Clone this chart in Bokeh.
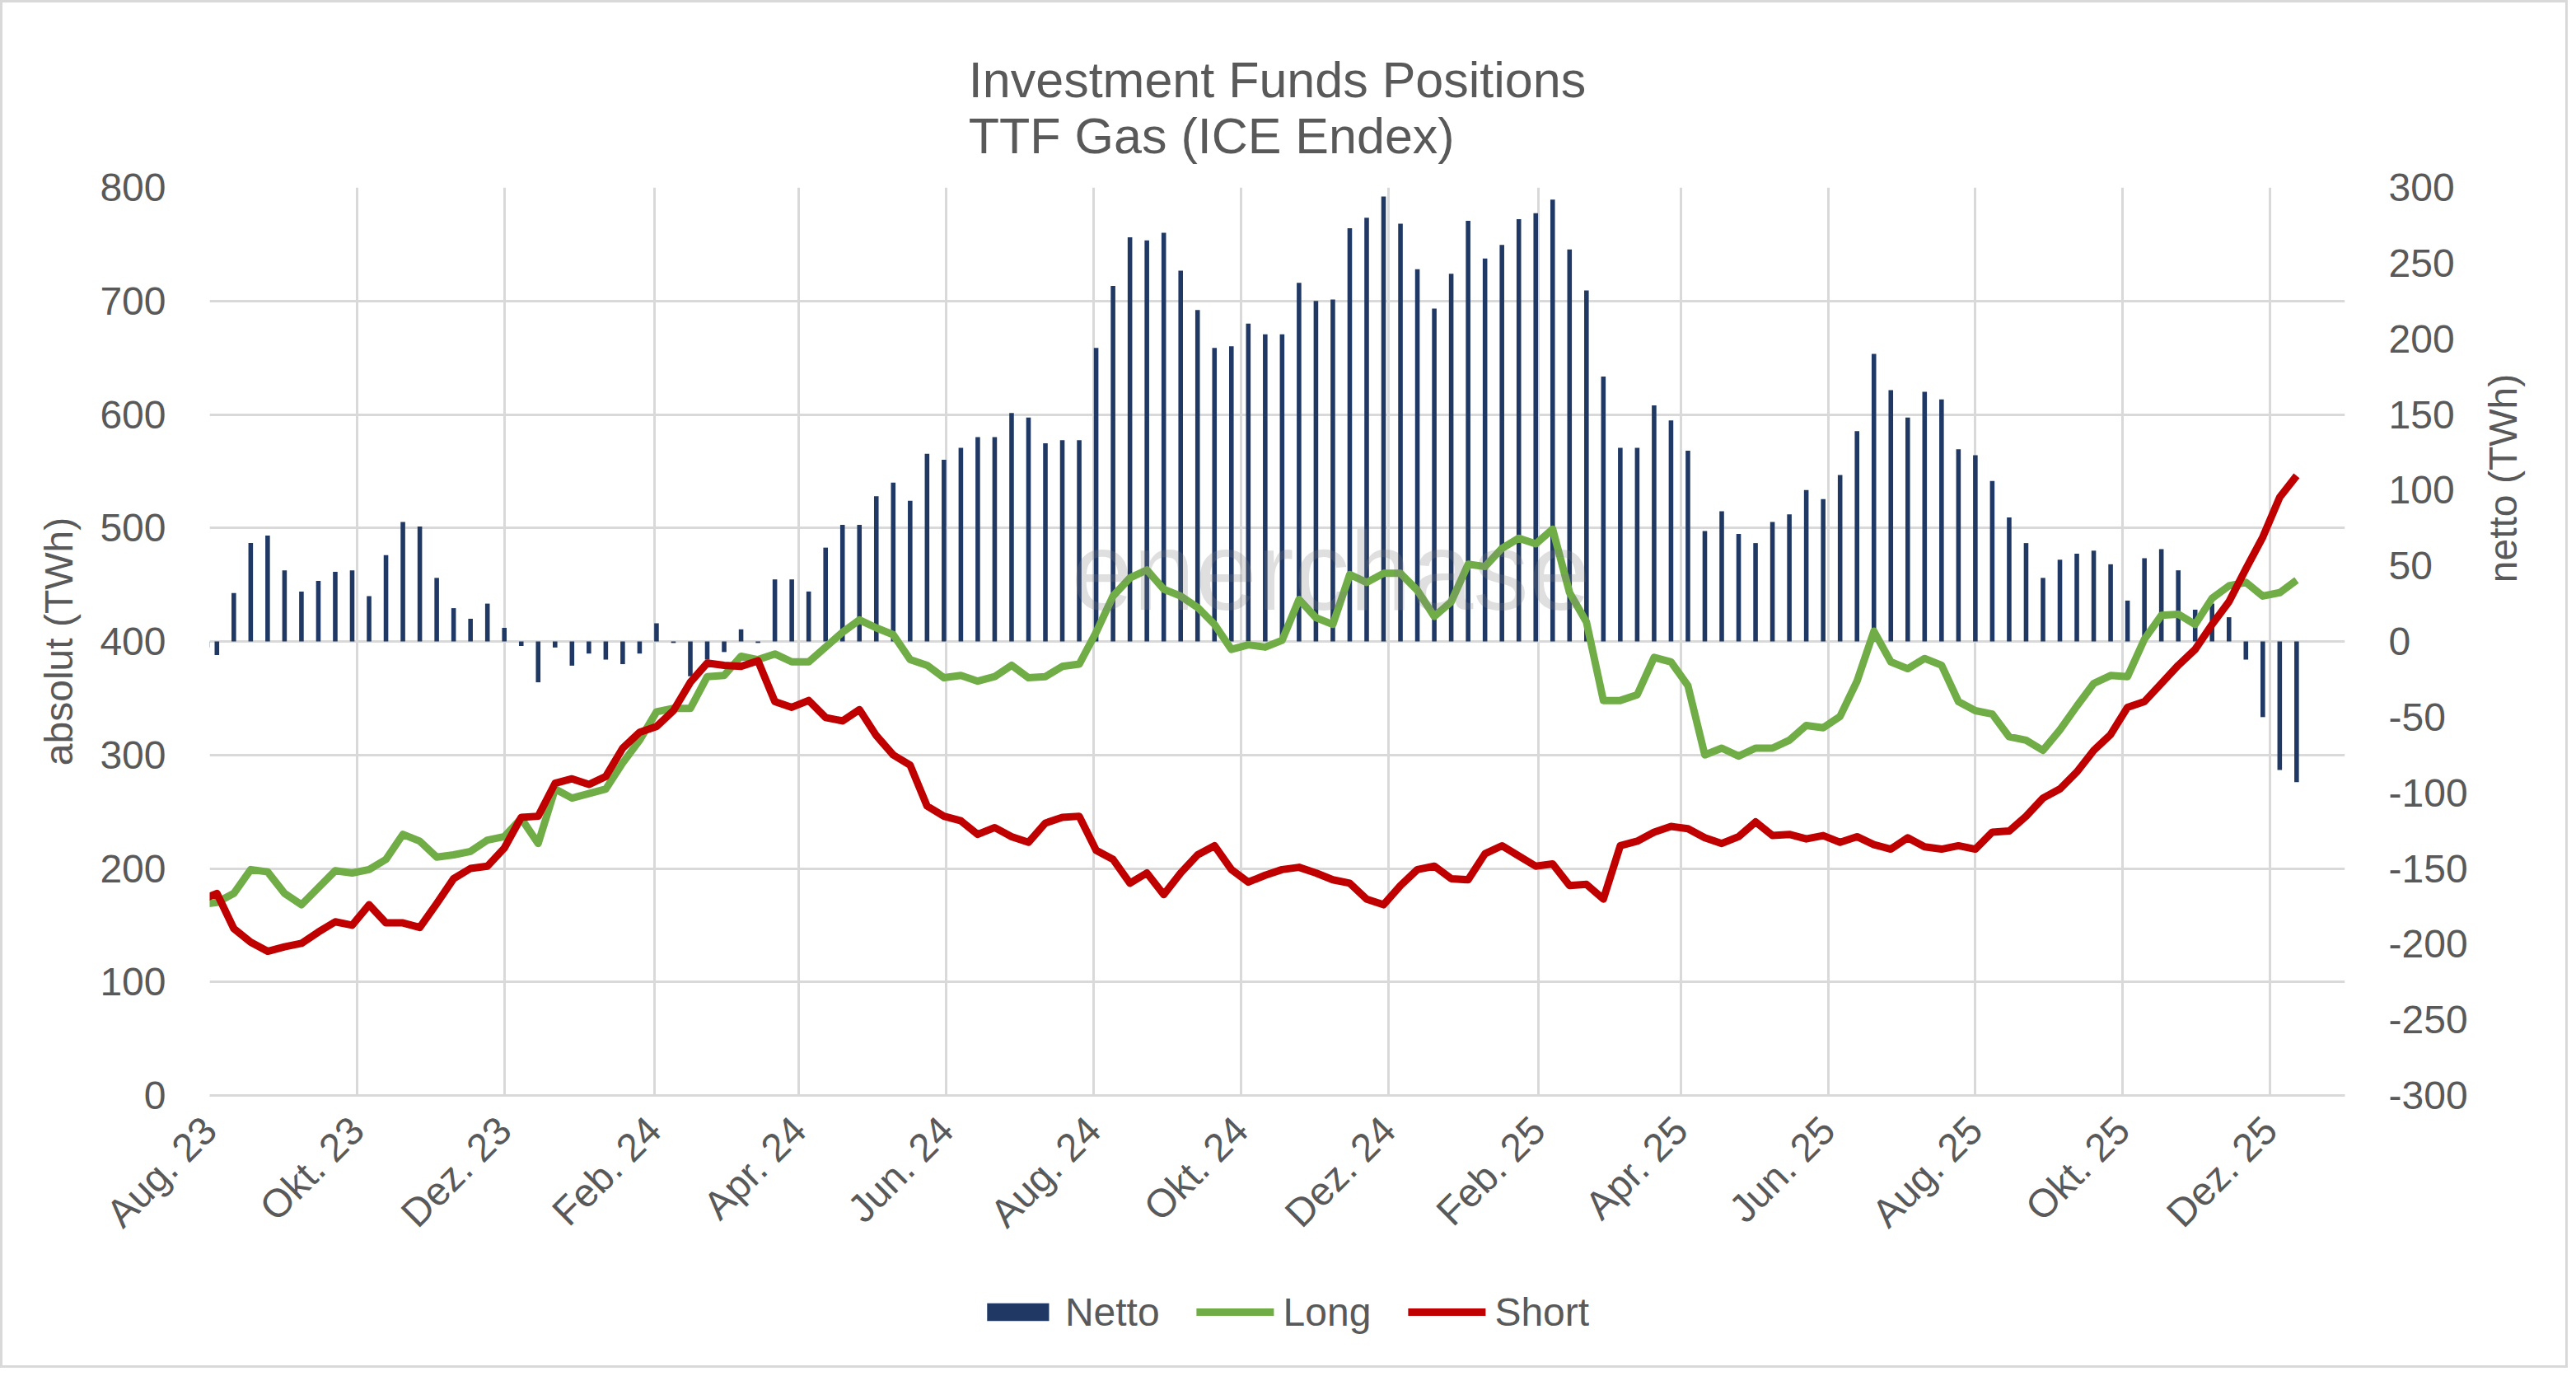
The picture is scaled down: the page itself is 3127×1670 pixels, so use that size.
import math

import pandas as pd
from bokeh.plotting import figure
from bokeh.layouts import column, row
from bokeh.models import (Range1d, LinearAxis, FixedTicker, SingleIntervalTicker,
                          NumeralTickFormatter, Legend, Label)
from bokeh.embed import file_html
from bokeh.resources import INLINE

# weekly report dates (Fridays), first one sits just left of the axis start
weeks = pd.date_range("2023-07-28", periods=125, freq="7D")

# long positions, TWh (left axis)
long_pos = [168, 170, 178, 199, 197, 178, 168, 183, 198, 196,
            199, 208, 230, 224, 210, 212, 215, 225, 228, 244,
            222, 270, 262, 266, 270, 293, 313, 338, 341, 341,
            369, 370, 387, 384, 389, 382, 382, 395, 408, 419,
            412, 406, 384, 379, 368, 370, 365, 369, 379, 368,
            369, 378, 380, 408, 440, 456, 463, 446, 440, 430,
            415, 393, 397, 395, 401, 437, 421, 415, 459, 452,
            460, 460, 445, 422, 435, 468, 466, 482, 491, 486,
            499, 443, 417, 348, 348, 353, 386, 382, 361, 300,
            306, 299, 306, 306, 313, 326, 324, 334, 365, 409,
            382, 376, 385, 379, 347, 339, 336, 316, 313, 304,
            322, 343, 363, 370, 369, 402, 423, 424, 415, 438,
            449, 452, 440, 443, 454]

# short positions, TWh (left axis)
short_pos = [172, 178, 147, 135, 127, 131, 134, 144, 153, 150,
             168, 152, 152, 148, 169, 191, 200, 202, 218, 245,
             246, 275, 279, 274, 281, 306, 320, 325, 339, 364,
             381, 379, 378, 383, 347, 342, 348, 333, 330, 340,
             317, 300, 291, 255, 246, 242, 230, 236, 228, 223,
             240, 245, 246, 216, 208, 187, 196, 177, 196, 212,
             220, 199, 188, 194, 199, 201, 196, 190, 187, 173,
             168, 185, 199, 202, 191, 190, 213, 220, 211, 202,
             204, 185, 186, 173, 220, 224, 232, 237, 235, 227,
             222, 228, 241, 229, 230, 226, 229, 223, 228, 221,
             217, 227, 219, 217, 220, 217, 232, 233, 246, 262,
             270, 285, 304, 318, 342, 347, 363, 379, 393, 415,
             435, 464, 492, 527, 546]

# net position, TWh (right axis)
netto = [-4, -9, 32, 65, 70, 47, 33, 40, 46, 47,
         30, 57, 79, 76, 42, 22, 15, 25, 9, -3,
         -27, -4, -16, -8, -12, -15, -8, 12, -1, -23,
         -12, -7, 8, -1, 41, 41, 33, 62, 77, 77,
         96, 105, 93, 124, 120, 128, 135, 135, 151, 148,
         131, 133, 133, 194, 235, 267, 265, 270, 245, 219,
         194, 195, 210, 203, 203, 237, 225, 226, 273, 280,
         294, 276, 246, 220, 243, 278, 253, 262, 279, 283,
         292, 259, 232, 175, 128, 128, 156, 146, 126, 73,
         86, 71, 65, 79, 84, 100, 94, 110, 139, 190,
         166, 148, 165, 160, 127, 123, 106, 82, 65, 42,
         54, 58, 60, 51, 27, 55, 61, 47, 21, 25,
         16, -12, -50, -85, -93]

tick_dates = ["2023-08-01", "2023-10-01", "2023-12-01", "2024-02-01", "2024-04-01",
              "2024-06-01", "2024-08-01", "2024-10-01", "2024-12-01", "2025-02-01",
              "2025-04-01", "2025-06-01", "2025-08-01", "2025-10-01", "2025-12-01"]
tick_labels = ["Aug. 23", "Okt. 23", "Dez. 23", "Feb. 24", "Apr. 24",
               "Jun. 24", "Aug. 24", "Okt. 24", "Dez. 24", "Feb. 25",
               "Apr. 25", "Jun. 25", "Aug. 25", "Okt. 25", "Dez. 25"]

FONT = "Liberation Sans"
GREY_TXT = "#595959"
GRID = "#d9d9d9"
NAVY = "#203864"
GREEN = "#70ad47"
RED = "#c00000"
DAY = 86400000
NAN = float("nan")


def to_ms(d):
    return int(pd.Timestamp(d).value // 10**6)


def bare(fig):
    # figure without axes/grid, frame = whole canvas
    fig.xaxis.visible = False
    fig.yaxis.visible = False
    fig.grid.visible = False
    fig.outline_line_color = None
    return fig


x = [to_ms(d) for d in weeks]
ticks = [to_ms(d) for d in tick_dates]

p = figure(width=2997, height=1524,
           x_range=Range1d(to_ms("2023-08-01"), to_ms("2026-01-01")),
           y_range=Range1d(0, 800),
           output_backend="svg",
           toolbar_location=None,
           min_border_left=251, min_border_right=154,
           min_border_top=224, min_border_bottom=198)
p.extra_y_ranges = {"netto": Range1d(-300, 300)}
p.outline_line_color = None

#title
p.title.text = "Investment Funds Positions\nTTF Gas (ICE Endex)"
p.title.align = "center"
p.title.text_font = FONT
p.title.text_font_size = "61px"
p.title.text_font_style = "normal"
p.title.text_color = GREY_TXT
p.title.text_line_height = 1.0
p.title.standoff = 57

#bars first, lines on top
p.vbar(x=x, top=netto, bottom=0, width=1.9 * DAY,
       y_range_name="netto", fill_color=NAVY, line_color=None)
p.line(x, long_pos, line_color=GREEN, line_width=9, line_join="round")
p.line(x, short_pos, line_color=RED, line_width=9, line_join="round")

#axes
xa = p.xaxis[0]
xa.ticker = FixedTicker(ticks=ticks, minor_ticks=[])
xa.major_label_overrides = {t: lab for t, lab in zip(ticks, tick_labels)}
xa.major_label_orientation = math.pi / 4
xa.major_label_standoff = 28
xa.axis_line_color = GRID
xa.axis_line_width = 3

ya = p.yaxis[0]
ya.ticker = SingleIntervalTicker(interval=100)
ya.axis_label = "absolut (TWh)"
ya.axis_line_color = None
ya.major_label_standoff = 47
ya.axis_label_standoff = 20

yr = LinearAxis(y_range_name="netto", ticker=SingleIntervalTicker(interval=50),
                formatter=NumeralTickFormatter(format="0"))
yr.axis_line_color = None
yr.major_label_standoff = 47
p.add_layout(yr, "right")

for ax in [xa, ya, yr]:
    ax.major_tick_line_color = None
    ax.minor_tick_line_color = None
    ax.major_label_text_font = FONT
    ax.major_label_text_font_size = "48px"
    ax.major_label_text_color = GREY_TXT
    ax.axis_label_text_font = FONT
    ax.axis_label_text_font_size = "48px"
    ax.axis_label_text_font_style = "normal"
    ax.axis_label_text_color = GREY_TXT

#grid
p.xgrid.ticker = xa.ticker
p.ygrid.ticker = ya.ticker
for g in [p.xgrid, p.ygrid]:
    g.grid_line_color = GRID
    g.grid_line_width = 3

#watermark
p.add_layout(Label(x=1046, y=636, x_units="screen", y_units="screen",
                   text="enerchase", text_font=FONT, text_font_size="135px",
                   text_baseline="alphabetic",
                   text_color="#7f7f7f", text_alpha=0.25))

# strip right of the chart holding the secondary axis title (reads bottom to top)
side = bare(figure(width=114, height=1524, output_backend="svg", toolbar_location=None,
                   x_range=Range1d(0, 1), y_range=Range1d(0, 1), min_border=0))
side.add_layout(Label(x=38, y=749, x_units="screen", y_units="screen",
                      text="netto (TWh)", angle=math.pi / 2,
                      text_align="center", text_baseline="middle",
                      text_font=FONT, text_font_size="48px", text_color=GREY_TXT))

# strip under the chart holding the legend (NaN proxies: nothing is drawn)
foot = bare(figure(width=3111, height=130, output_backend="svg", toolbar_location=None,
                   x_range=Range1d(0, 1), y_range=Range1d(0, 1), min_border=0))
k_netto = foot.vbar(x=[NAN], top=[NAN], width=1, fill_color=NAVY, line_color=None)
k_long = foot.line([NAN], [NAN], line_color=GREEN, line_width=9, line_cap="round")
k_short = foot.line([NAN], [NAN], line_color=RED, line_width=9, line_cap="round")

legend = Legend(items=[("Netto", [k_netto]), ("Long", [k_long]), ("Short", [k_short])],
                orientation="horizontal", location="center")
legend.label_text_font = FONT
legend.label_text_font_size = "48px"
legend.label_text_color = GREY_TXT
legend.glyph_width = 94
legend.glyph_height = 27
legend.label_standoff = 11
legend.spacing = 45
legend.border_line_color = None
legend.background_fill_alpha = 0
foot.add_layout(legend)

page = column(row(p, side, spacing=0), foot, spacing=0)
# thin grey chart-area frame like the original
page.styles = {"border": "3px solid #d9d9d9"}

open("out.html", "w").write(file_html(page, INLINE))
